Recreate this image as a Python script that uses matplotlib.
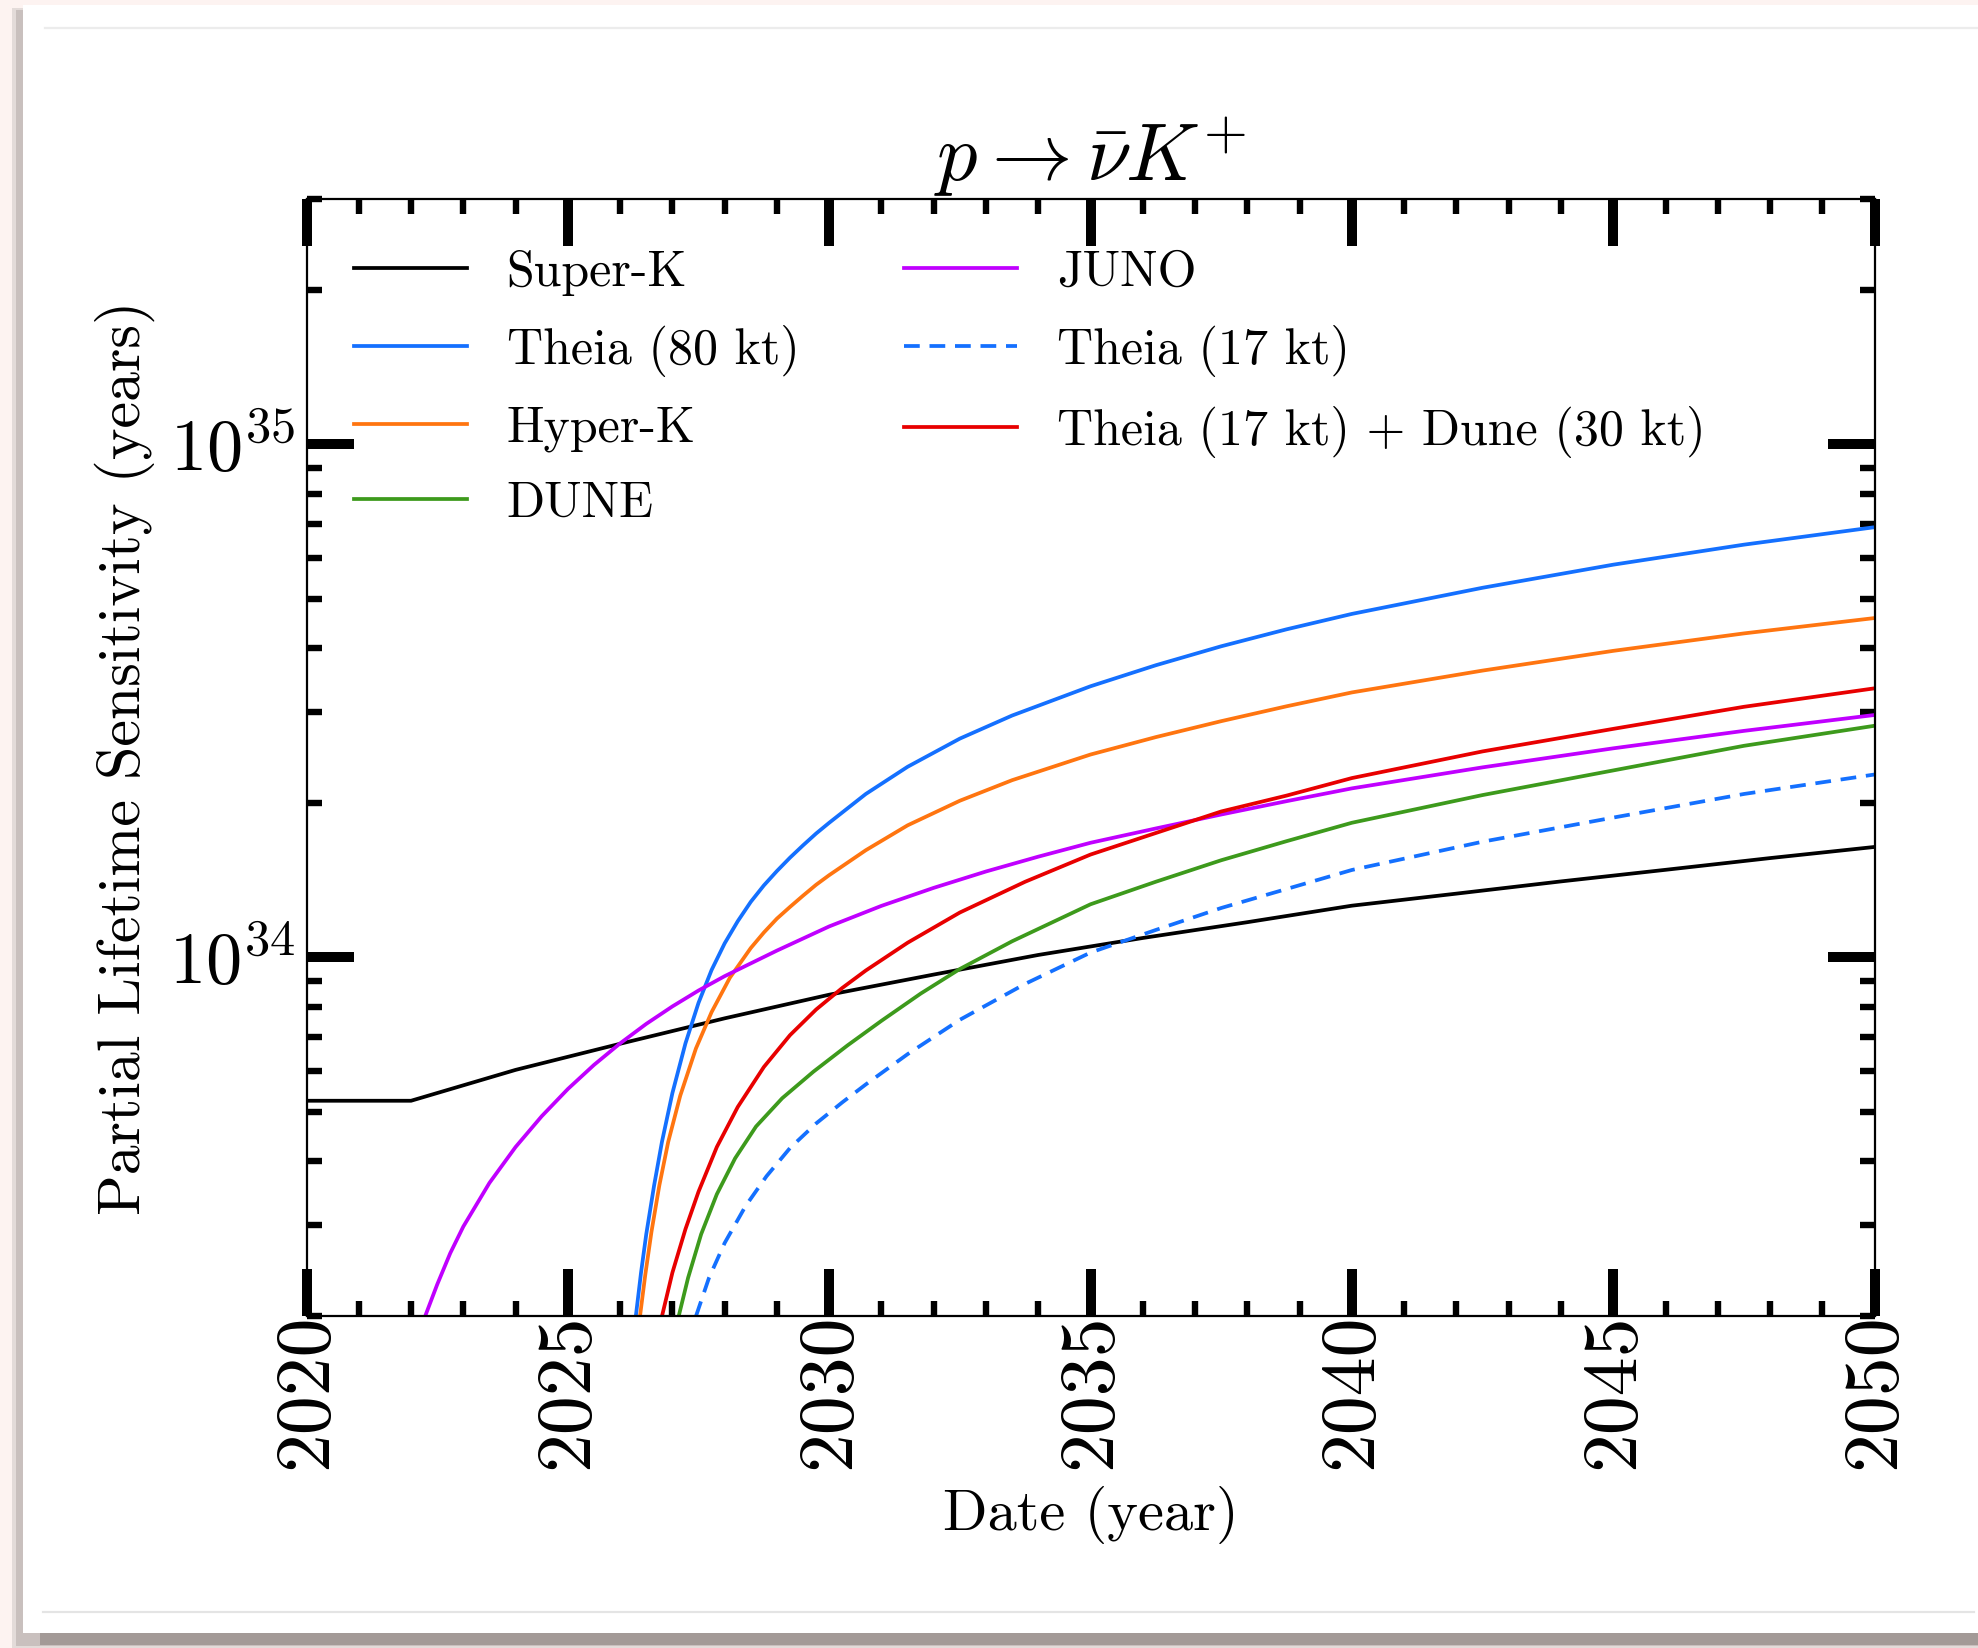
import matplotlib
matplotlib.use('Agg')
import matplotlib.pyplot as plt
from matplotlib.patches import Rectangle
from matplotlib.lines import Line2D
from matplotlib.ticker import LogLocator, MultipleLocator, NullFormatter

plt.rcParams['font.family'] = 'serif'
plt.rcParams['font.serif'] = ['cmr10']
plt.rcParams['mathtext.fontset'] = 'cm'
plt.rcParams['axes.formatter.use_mathtext'] = True

# data (lifetime in years)
superk_years = [2020, 2022, 2024, 2026, 2028, 2030, 2032, 2034, 2036, 2038, 2040,
                2042, 2044, 2046, 2048, 2050]
superk_tau = [5.25e33, 5.25e33, 6.03e33, 6.78e33, 7.6e33, 8.45e33, 9.25e33, 1.01e34,
              1.09e34, 1.17e34, 1.26e34, 1.33e34, 1.405e34, 1.48e34, 1.56e34, 1.64e34]

theia80_years = [2026.3, 2026.4, 2026.5, 2026.65, 2026.8, 2027.0, 2027.25, 2027.5,
                 2027.75, 2028.0, 2028.25, 2028.5, 2028.75, 2029.0, 2029.25, 2029.5,
                 2029.75, 2030.0, 2030.7, 2031.5, 2032.5, 2033.5, 2035.0, 2036.25,
                 2037.5, 2038.75, 2040.0, 2042.5, 2045.0, 2047.5, 2050.0]
theia80_tau = [1.995e33, 2.427e33, 2.884e33, 3.589e33, 4.365e33, 5.433e33, 6.792e33,
               8.147e33, 9.441e33, 1.064e34, 1.175e34, 1.282e34, 1.380e34, 1.472e34,
               1.563e34, 1.652e34, 1.742e34, 1.828e34, 2.080e34, 2.350e34, 2.667e34,
               2.958e34, 3.373e34, 3.707e34, 4.036e34, 4.355e34, 4.667e34, 5.248e34,
               5.821e34, 6.368e34, 6.887e34]

hyperk_years = [2026.38, 2026.48, 2026.6, 2026.75, 2026.92, 2027.15, 2027.45, 2027.75,
                2028.1, 2028.5, 2028.75, 2029.0, 2029.25, 2029.5, 2029.75, 2030.0,
                2030.7, 2031.5, 2032.5, 2033.5, 2035.0, 2036.25, 2037.5, 2038.75,
                2040.0, 2042.5, 2045.0, 2047.5, 2050.0]
hyperk_tau = [1.995e33, 2.399e33, 2.917e33, 3.589e33, 4.365e33, 5.370e33, 6.637e33,
              7.816e33, 9.120e33, 1.042e34, 1.117e34, 1.189e34, 1.253e34, 1.318e34,
              1.384e34, 1.445e34, 1.616e34, 1.807e34, 2.018e34, 2.213e34, 2.483e34,
              2.685e34, 2.884e34, 3.083e34, 3.281e34, 3.619e34, 3.954e34, 4.276e34,
              4.581e34]

dune_years = [2027.12, 2027.3, 2027.55, 2027.85, 2028.2, 2028.6, 2029.1, 2029.7,
              2030.35, 2031.0, 2031.75, 2032.5, 2033.5, 2035.0, 2036.25, 2037.5,
              2038.75, 2040.0, 2042.5, 2045.0, 2047.5, 2050.0]
dune_tau = [1.995e33, 2.371e33, 2.884e33, 3.451e33, 4.055e33, 4.677e33, 5.309e33,
            5.984e33, 6.730e33, 7.516e33, 8.492e33, 9.484e33, 1.074e34, 1.268e34,
            1.403e34, 1.545e34, 1.683e34, 1.828e34, 2.070e34, 2.312e34, 2.582e34,
            2.825e34]

juno_years = [2022.25, 2022.5, 2022.75, 2023.0, 2023.5, 2024.0, 2024.5, 2025.0,
              2025.5, 2026.0, 2026.5, 2027.0, 2027.5, 2028.0, 2029.0, 2030.0,
              2031.0, 2032.0, 2033.0, 2034.0, 2035.0, 2036.25, 2037.5, 2038.75,
              2040.0, 2042.5, 2045.0, 2047.5, 2050.0]
juno_tau = [1.972e33, 2.301e33, 2.649e33, 2.985e33, 3.631e33, 4.266e33, 4.898e33,
            5.534e33, 6.166e33, 6.792e33, 7.413e33, 8.017e33, 8.610e33, 9.183e33,
            1.030e34, 1.148e34, 1.259e34, 1.365e34, 1.469e34, 1.570e34, 1.671e34,
            1.782e34, 1.897e34, 2.014e34, 2.133e34, 2.344e34, 2.553e34, 2.761e34,
            2.965e34]

theia17_years = [2027.45, 2027.7, 2028.0, 2028.4, 2028.8, 2029.25, 2029.75, 2030.25,
                 2030.7, 2031.5, 2032.5, 2033.75, 2035.0, 2036.25, 2037.5, 2038.75,
                 2040.0, 2042.5, 2045.0, 2047.5, 2050.0]
theia17_tau = [1.995e33, 2.371e33, 2.773e33, 3.273e33, 3.741e33, 4.246e33, 4.742e33,
               5.212e33, 5.649e33, 6.471e33, 7.551e33, 8.872e33, 1.021e34, 1.130e34,
               1.247e34, 1.358e34, 1.479e34, 1.679e34, 1.871e34, 2.080e34, 2.270e34]

combo_years = [2026.8, 2027.0, 2027.25, 2027.5, 2027.85, 2028.25, 2028.75, 2029.25,
               2029.75, 2030.25, 2030.7, 2031.5, 2032.5, 2033.75, 2035.0, 2036.25,
               2037.5, 2038.75, 2040.0, 2042.5, 2045.0, 2047.5, 2050.0]
combo_tau = [1.995e33, 2.427e33, 2.951e33, 3.491e33, 4.266e33, 5.105e33, 6.109e33,
             7.047e33, 7.907e33, 8.710e33, 9.419e33, 1.067e34, 1.222e34, 1.403e34,
             1.585e34, 1.746e34, 1.923e34, 2.065e34, 2.234e34, 2.518e34, 2.786e34,
             3.076e34, 3.342e34]

xticks = [2020, 2025, 2030, 2035, 2040, 2045, 2050]
xtick_labels = ['2020', '2025', '2030', '2035', '2040', '2045', '2050']

W, H = 1978, 1648
fig = plt.figure(figsize=(W / 200, H / 200), dpi=200, facecolor='#fdf3f1')


def px_rect(x0, y0, x1, y1, **kw):
    # rectangle in pixel coords measured from the top-left corner
    fig.patches.append(Rectangle((x0 / W, 1 - y1 / H), (x1 - x0) / W, (y1 - y0) / H,
                                 transform=fig.transFigure, zorder=-10, **kw))


def px_line(x0, x1, y, **kw):
    fig.lines.append(Line2D([x0 / W, x1 / W], [1 - y / H, 1 - y / H],
                            transform=fig.transFigure, zorder=-5, **kw))


# card with a soft shadow
px_rect(12, 8, W, H, color='#e3dbd9', lw=0)
px_rect(16, 10, W, 1646, color='#c9c0be', lw=0)
px_rect(40, 1633, W, 1645, color='#a39a97', lw=0)
px_rect(23, 5, W, 1633, color='white', lw=0)
px_line(45, W, 27.5, color='#ececec', lw=0.8)
px_line(43, 1974, 1612, color='#e4e4e4', lw=0.8)

ax = fig.add_axes([306.5 / W, 1 - 1315.8 / H, (1874.6 - 306.5) / W, (1315.8 - 199.3) / H])
ax.set_facecolor('white')

lw = 1.35
ax.plot(superk_years, superk_tau, color='black', lw=lw, label='Super-K')
ax.plot(theia80_years, theia80_tau, color='#1470ff', lw=lw, label='Theia (80 kt)')
ax.plot(hyperk_years, hyperk_tau, color='#ff7510', lw=lw, label='Hyper-K')
ax.plot(dune_years, dune_tau, color='#3d9a1c', lw=lw, label='DUNE')
ax.plot(juno_years, juno_tau, color='#c000ff', lw=lw, label='JUNO')
ax.plot(theia17_years, theia17_tau, color='#1470ff', lw=lw, dashes=(4.2, 2.6),
        label='Theia (17 kt)')
ax.plot(combo_years, combo_tau, color='#e80000', lw=lw,
        label='Theia (17 kt) + Dune (30 kt)')

ax.set_yscale('log')
ax.set_xlim(2020, 2050)
ax.set_ylim(2e33, 3e35)

ax.set_xticks(xticks, labels=xtick_labels, rotation=90)
ax.xaxis.set_minor_locator(MultipleLocator(1))
ax.yaxis.set_major_locator(LogLocator(base=10))
ax.yaxis.set_minor_locator(LogLocator(base=10, subs=(2, 3, 4, 5, 6, 7, 8, 9)))
ax.yaxis.set_minor_formatter(NullFormatter())

ax.tick_params(which='major', direction='in', length=17, width=3.6, top=True,
               right=True)
ax.tick_params(which='minor', direction='in', length=5.5, width=2.3, top=True,
               right=True)
ax.tick_params(axis='x', which='major', labelsize=28, pad=-0.8)
ax.tick_params(axis='y', which='major', labelsize=26, pad=4)
for sp in ax.spines.values():
    sp.set_linewidth(0.8)

ax.set_title(r'$p \rightarrow \bar{\nu} K^{+}$', fontsize=29, pad=2)
ax.set_xlabel('Date (year)', fontsize=21, labelpad=6)
ax.set_ylabel('Partial Lifetime Sensitivity (years)', fontsize=21.6, labelpad=5)

ax.legend(loc='upper left', bbox_to_anchor=(0.03, 0.955), ncol=2, frameon=False,
          fontsize=18, handlelength=2.26, handletextpad=0.8, labelspacing=0.58,
          columnspacing=2.1, borderpad=0, borderaxespad=0)

fig.savefig('out.png', dpi=200, facecolor=fig.get_facecolor())
